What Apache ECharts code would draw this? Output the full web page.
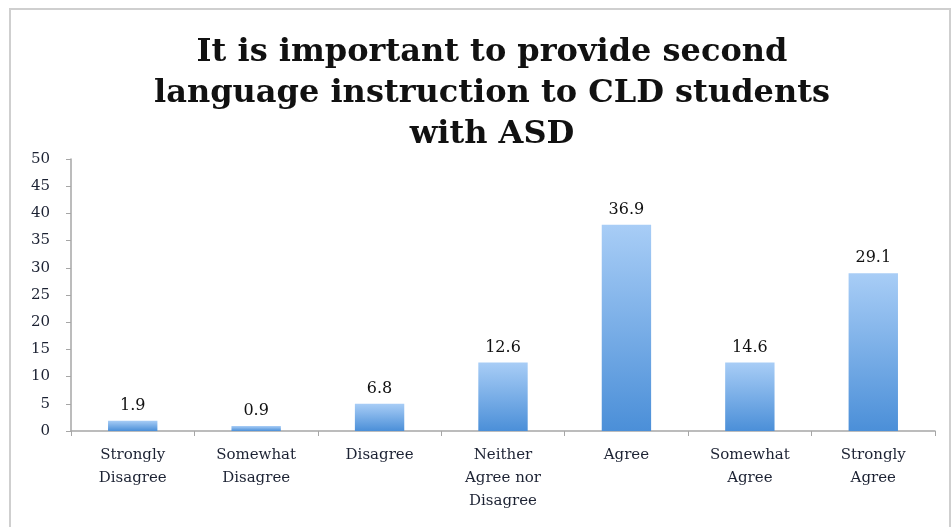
<!DOCTYPE html>
<html>
<head>
<meta charset="utf-8">
<script src="https://cdn.jsdelivr.net/npm/echarts@6/dist/echarts.min.js"></script>
<style>
    html, body { margin: 0; padding: 0; background: #fff; }
    #chart { width: 952px; height: 527px; }
</style>
</head>
<body>
<div id="chart"></div>
<script>
    // categories along the x axis
    var categories = ['Strongly\nDisagree', 'Somewhat\nDisagree', 'Disagree', 'Neither\nAgree nor\nDisagree', 'Agree', 'Somewhat\nAgree', 'Strongly\nAgree'];
    // bar heights as drawn in the picture
    var barHeights = [1.9, 0.9, 5.0, 12.6, 37.9, 12.6, 29.0];
    // numbers printed over the bars
    var valueLabels = ['1.9', '0.9', '6.8', '12.6', '36.9', '14.6', '29.1'];
    var yTicks = [0, 5, 10, 15, 20, 25, 30, 35, 40, 45, 50];

    var serif = "'DejaVu Serif', 'Liberation Serif', serif";
    var myChart = echarts.init(document.getElementById('chart'));
    myChart.setOption({
        animation: false,
        graphic: [
            {
                type: 'polyline',
                shape: { points: [[10, 527], [10, 9], [950, 9], [950, 527]] },
                style: { stroke: '#cfcfcf', lineWidth: 2, fill: null }
            }
        ],
        title: {
            text: 'It is important to provide second\nlanguage instruction to CLD students\nwith ASD',
            left: 487,
            textAlign: 'center',
            top: 27,
            textStyle: {
                fontFamily: serif,
                fontWeight: 'bold',
                fontSize: 32,
                lineHeight: 41,
                color: '#111'
            }
        },
        grid: {
            left: 71,
            right: 17,
            top: 159,
            bottom: 96,
            containLabel: false
        },
        xAxis: {
            type: 'category',
            data: categories,
            axisLine: { lineStyle: { color: '#a6a6a6', width: 1.5 } },
            axisTick: { show: true, length: 5, lineStyle: { color: '#a6a6a6' } },
            axisLabel: {
                interval: 0,
                margin: 13,
                fontFamily: serif,
                fontSize: 15,
                lineHeight: 23,
                color: '#1c2233'
            }
        },
        yAxis: {
            type: 'value',
            min: 0,
            max: 50,
            interval: 5,
            splitLine: { show: false },
            axisLine: { show: true, lineStyle: { color: '#a6a6a6', width: 1.5 } },
            axisTick: { show: true, length: 5, lineStyle: { color: '#a6a6a6' } },
            axisLabel: {
                margin: 21,
                fontFamily: serif,
                fontSize: 15,
                color: '#1c2233',
                formatter: function (v) { return yTicks.indexOf(v) >= 0 ? String(v) : ''; }
            }
        },
        series: [
            {
                type: 'bar',
                data: barHeights,
                barWidth: '40%',
                itemStyle: {
                    color: new echarts.graphic.LinearGradient(0, 0, 0, 1, [
                        { offset: 0, color: '#a8cdf6' },
                        { offset: 1, color: '#4b8fd8' }
                    ])
                },
                label: {
                    show: true,
                    position: 'top',
                    distance: 7,
                    fontFamily: serif,
                    fontSize: 16,
                    color: '#111',
                    formatter: function (p) { return valueLabels[p.dataIndex]; }
                }
            }
        ]
    });
</script>
</body>
</html>
